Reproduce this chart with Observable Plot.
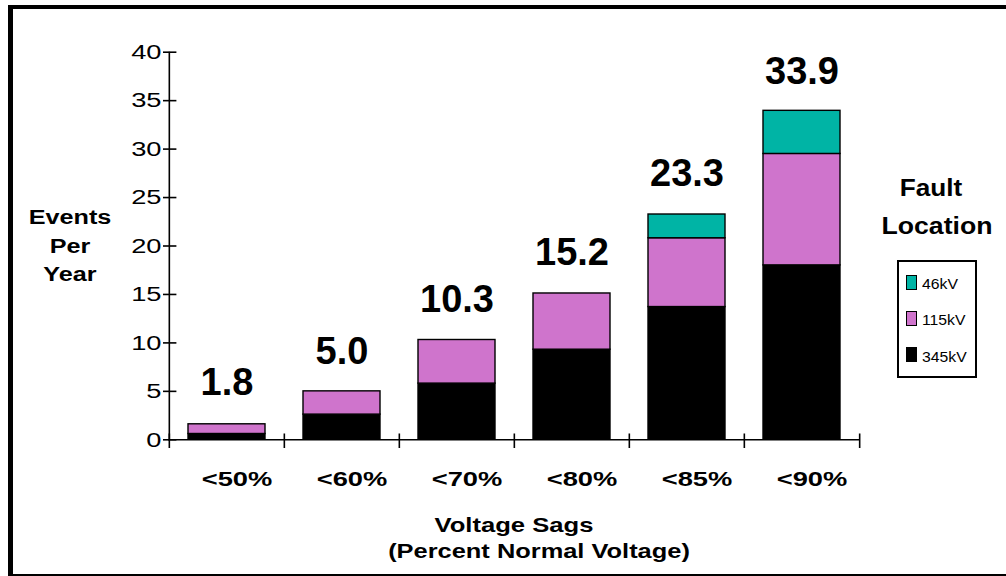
<!DOCTYPE html>
<html>
<head>
<meta charset="utf-8">
<script src="https://cdn.jsdelivr.net/npm/d3@7"></script>
<script src="https://cdn.jsdelivr.net/npm/@observablehq/plot@0.6"></script>
<style>
  html, body { margin: 0; padding: 0; background: #fff; overflow: hidden; }
  #wrap { position: relative; width: 1006px; height: 576px; font-family: "Liberation Sans", Arial, sans-serif; color: #000; }
  #wrap svg { position: absolute; left: 0; top: 0; }
  .abs { position: absolute; white-space: nowrap; }
  #border { position: absolute; left: 8px; top: 5px; width: 1010px; height: 571px; box-sizing: border-box;
            border-left: 5px solid #000; border-top: 4px solid #000; border-bottom: 2px solid #000; pointer-events: none; }
</style>
</head>
<body>
<div id="wrap"></div>
<script>
// ---- data ----
const categories = ["<50%", "<60%", "<70%", "<80%", "<85%", "<90%"];
const series = ["345kV", "115kV", "46kV"];
const colors = ["#000000", "#cf74cc", "#00b4a5"];
const values345 = [0.6, 2.6, 5.8, 9.3, 13.7, 18.0];
const values115 = [1.0, 2.4, 4.5, 5.8, 7.1, 11.5];
const values46  = [0.0, 0.0, 0.0, 0.0, 2.45, 4.45];
const totals = [1.8, 5.0, 10.3, 15.2, 23.3, 33.9];
const yTicks = [0, 5, 10, 15, 20, 25, 30, 35, 40];
const yLabelLines = ["Events", "Per", "Year"];
const xTitleLines = ["Voltage Sags", "(Percent Normal Voltage)"];
const legendTitleLines = ["Fault", "Location"];

// ---- tables built from the arrays ----
const seriesValues = [values345, values115, values46];
const rows = [];
series.forEach((s, si) => categories.forEach((c, ci) => {
  if (seriesValues[si][ci] > 0) rows.push({cat: c, series: s, value: seriesValues[si][ci]});
}));
const totalRows = categories.map((c, i) => ({cat: c, total: totals[i]}));

// ---- layout ----
const W = 1006, H = 576;
const mL = 168, mR = 146, mT = 51.7, mB = 136.7;
const step = (W - mL - mR) / categories.length;

const chart = Plot.plot({
  width: W, height: H,
  marginLeft: mL, marginRight: mR, marginTop: mT, marginBottom: mB,
  style: {fontFamily: "'Liberation Sans', Arial, sans-serif", background: "transparent", color: "#000"},
  x: {domain: categories, paddingInner: 1/3, paddingOuter: 1/6, axis: null},
  y: {domain: [0, 40], axis: null},
  color: {domain: series, range: colors},
  marks: [
    Plot.barY(rows, {x: "cat", y: "value", fill: "series", stroke: "#000", strokeWidth: 1.4}),
    // value axis line
    Plot.ruleX([categories[0]], {dx: -step / 2, y1: 0, y2: 40, stroke: "#000", strokeWidth: 1.6}),
    // category axis line
    Plot.ruleY([0], {stroke: "#000", strokeWidth: 1.6}),
    // category boundary ticks
    Plot.ruleX(categories, {dx: -step / 2, y1: 0.6, y2: -0.9, stroke: "#000", strokeWidth: 1.6}),
    Plot.ruleX([categories[categories.length - 1]], {dx: step / 2, y1: 0.6, y2: -0.9, stroke: "#000", strokeWidth: 1.6}),
    Plot.axisY({ticks: yTicks, tickSize: 13.4, dx: 8.4, tickPadding: 2, fontSize: 21, stroke: "#000", strokeWidth: 1.6}),
    Plot.text(categories, {x: d => d, frameAnchor: "bottom", lineAnchor: "top", dy: 30.8, dx: 10,
      fontSize: 21, fontWeight: "bold"}),
    Plot.text(totalRows, {x: "cat", y: "total", text: d => d.total.toFixed(1), lineAnchor: "bottom", dy: -27.6,
      fontSize: 38, fontWeight: "bold"})
  ]
});

const wrap = document.getElementById("wrap");
wrap.appendChild(chart);

// horizontal stretch of the axis text (the reference text is wide): scale about each text's anchor
const tickStrings = yTicks.map(String);
chart.querySelectorAll("text").forEach(t => {
  const s = t.textContent;
  let f = 1;
  if (categories.includes(s)) f = 1.3;
  else if (tickStrings.includes(s)) f = 1.3;
  if (f === 1) return;
  const x = parseFloat(t.getAttribute("x") || "0") || 0;
  t.removeAttribute("x");
  const tr = t.getAttribute("transform") || "";
  t.setAttribute("transform", `${tr} translate(${x},0) scale(${f},1)`.trim());
});

// ---- HTML text: axis titles and legend ----
function addText(txt, cx, baseline, size, bold, sx, align) {
  const d = document.createElement("div");
  d.className = "abs";
  d.textContent = txt;
  d.style.fontSize = size + "px";
  d.style.lineHeight = "1";
  d.style.fontWeight = bold ? "bold" : "normal";
  const asc = 0.905 * size, content = 1.117 * size;
  const top = baseline - ((size - content) / 2 + asc);
  d.style.top = top + "px";
  if (align === "left") {
    d.style.left = cx + "px";
    d.style.transformOrigin = "left center";
  } else {
    d.style.left = (cx - 300) + "px";
    d.style.width = "600px";
    d.style.textAlign = "center";
    d.style.transformOrigin = "center center";
  }
  if (sx !== 1) d.style.transform = `scaleX(${sx})`;
  wrap.appendChild(d);
  return d;
}
// y title
yLabelLines.forEach((t, i) => addText(t, 70, 224 + i * 28.5, 20, true, 1.26));
// x title
addText(xTitleLines[0], 514, 532, 21, true, 1.22);
addText(xTitleLines[1], 539, 558, 21, true, 1.21);
// legend title
addText(legendTitleLines[0], 931, 196.7, 24, true, 1.09);
addText(legendTitleLines[1], 937, 234, 24, true, 1.11);

// legend box
const box = document.createElement("div");
box.className = "abs";
Object.assign(box.style, {left: "896.7px", top: "260px", width: "80px", height: "117.7px",
  border: "2px solid #000", boxSizing: "border-box"});
wrap.appendChild(box);
const legendOrder = series.slice().reverse();
legendOrder.forEach((s, i) => {
  const col = colors[series.indexOf(s)];
  const sw = document.createElement("div");
  sw.className = "abs";
  Object.assign(sw.style, {left: "906px", top: (275 + i * 36) + "px", width: "11px", height: "15px",
    background: col, border: "1.4px solid #000", boxSizing: "border-box"});
  wrap.appendChild(sw);
  addText(s, 922.3, 288.3 + i * 36.6, 15, false, 1.05, "left");
});

const border = document.createElement("div");
border.id = "border";
wrap.appendChild(border);
</script>
</body>
</html>
